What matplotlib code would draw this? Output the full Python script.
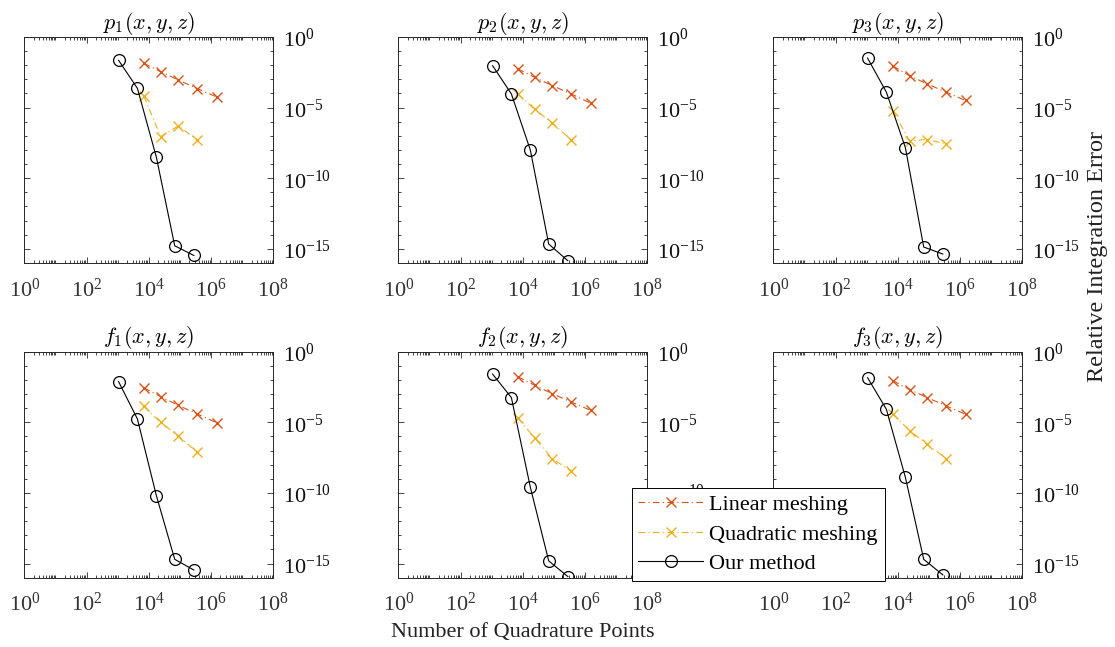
import numpy as np
import matplotlib
matplotlib.use("Agg")
import matplotlib.pyplot as plt
import matplotlib.transforms as mtransforms
from matplotlib.ticker import FixedLocator, FuncFormatter, LogLocator, NullFormatter

plt.rcParams.update({
    'font.family': 'serif',
    'font.serif': ['Liberation Serif', 'DejaVu Serif'],
    'mathtext.fontset': 'custom',
    'mathtext.rm': 'Liberation Serif',
    'mathtext.it': 'Liberation Serif:italic',
    'font.size': 16,
})

# number of quadrature points
x_ours = [1.07e3, 4.3e3, 1.75e4, 6.8e4, 2.8e5]
x_mesh = [6.9e3, 2.4e4, 8.9e4, 3.6e5, 1.5e6]

titles = ["$p_1(x,y,z)$", "$p_2(x,y,z)$", "$p_3(x,y,z)$",
          "$f_1(x,y,z)$", "$f_2(x,y,z)$", "$f_3(x,y,z)$"]

# relative integration error, one list per panel
ours_p1 = [2.24e-2, 2.34e-4, 3.1e-9, 1.66e-15, 3.4e-16]
lin_p1 = [1.38e-2, 3.5e-3, 9.1e-4, 2.2e-4, 5.8e-5]
quad_p1 = [6.8e-5, 8.9e-8, 5.1e-7, 5.2e-8]

ours_p2 = [9.3e-3, 9.3e-5, 9.8e-9, 2.2e-15, 1.45e-16]
lin_p2 = [5.5e-3, 1.4e-3, 3.6e-4, 9.3e-5, 2.1e-5]
quad_p2 = [9.3e-5, 7.8e-6, 7.9e-7, 5.2e-8]

ours_p3 = [3.2e-2, 1.23e-4, 1.48e-8, 1.35e-15, 4.3e-16]
lin_p3 = [8.9e-3, 1.8e-3, 4.7e-4, 1.23e-4, 3.2e-5]
quad_p3 = [5.9e-6, 4.5e-8, 5.5e-8, 2.7e-8]

ours_f1 = [7.6e-3, 1.74e-5, 6.5e-11, 2.0e-15, 3.5e-16]
lin_f1 = [2.8e-3, 6.6e-4, 1.58e-4, 3.9e-5, 9.5e-6]
quad_f1 = [1.35e-4, 1.0e-5, 1.07e-6, 7.6e-8]

ours_f2 = [2.6e-2, 5.6e-4, 2.5e-10, 1.55e-15, 1.2e-16]
lin_f2 = [1.7e-2, 4.2e-3, 1.07e-3, 2.75e-4, 7.1e-5]
quad_f2 = [2.1e-5, 7.8e-7, 2.7e-8, 3.4e-9]

ours_f3 = [1.45e-2, 8.3e-5, 1.29e-9, 2.0e-15, 1.58e-16]
lin_f3 = [8.9e-3, 2.1e-3, 5.6e-4, 1.45e-4, 3.7e-5]
quad_f3 = [3.9e-5, 2.6e-6, 2.75e-7, 2.7e-8]

panels = [
    (ours_p1, lin_p1, quad_p1),
    (ours_p2, lin_p2, quad_p2),
    (ours_p3, lin_p3, quad_p3),
    (ours_f1, lin_f1, quad_f1),
    (ours_f2, lin_f2, quad_f2),
    (ours_f3, lin_f3, quad_f3),
]

LIN_COLOR = '#D95319'
QUAD_COLOR = '#EDB120'
AX_COLOR = (0.15, 0.15, 0.15)

W, H = 1115, 647
lefts = [24.3, 398.3, 773.3]
tops = [37, 351.7]
ax_w, ax_h = 249, 226


def pow_label(v, pos):
    return r'$\mathregular{10^{%d}}$' % int(round(np.log10(v)))


def style_axis(ax, title):
    ax.set_xscale('log')
    ax.set_yscale('log')
    ax.set_xlim(1e0, 1e8)
    ax.set_ylim(1e-16, 1e0)
    ax.xaxis.set_major_locator(FixedLocator([1e0, 1e2, 1e4, 1e6, 1e8]))
    ax.xaxis.set_minor_locator(LogLocator(base=10, subs=np.arange(1, 10), numticks=100))
    ax.yaxis.set_major_locator(FixedLocator([1e-15, 1e-10, 1e-5, 1e0]))
    ax.yaxis.set_minor_locator(FixedLocator(10.0 ** np.arange(-16, 1)))
    ax.xaxis.set_major_formatter(FuncFormatter(pow_label))
    ax.yaxis.set_major_formatter(FuncFormatter(pow_label))
    ax.xaxis.set_minor_formatter(NullFormatter())
    ax.yaxis.set_minor_formatter(NullFormatter())
    ax.tick_params(which='both', direction='in', top=True, bottom=True, left=True, right=True,
                   labelleft=False, labelright=True, colors=AX_COLOR, width=0.6)
    ax.tick_params(which='major', length=4, labelsize=16)
    ax.tick_params(which='minor', length=2)
    ax.tick_params(axis='x', which='major', pad=11, labelcolor='#333333')
    ax.tick_params(axis='y', which='major', pad=7, labelcolor='#111111')
    # nudge right-hand labels a bit below their ticks, as in the original
    shift = mtransforms.ScaledTranslation(0, -2.5 / 72, ax.figure.dpi_scale_trans)
    for tick in ax.yaxis.get_major_ticks():
        tick.label2.set_verticalalignment('center')
        tick.label2.set_transform(tick.label2.get_transform() + shift)
    for s in ax.spines.values():
        s.set_color(AX_COLOR)
        s.set_linewidth(0.7)
    t = ax.set_title(title, fontsize=16, pad=6)
    t.set_math_fontfamily('cm')


fig = plt.figure(figsize=(W / 100, H / 100), dpi=100)
for i, (ours, lin, quad) in enumerate(panels):
    r, c = divmod(i, 3)
    ax = fig.add_axes([lefts[c] / W, 1 - (tops[r] + ax_h) / H, ax_w / W, ax_h / H])
    l1, = ax.plot(x_mesh, lin, linestyle=(0, (6, 3, 1, 3)), marker='x', color=LIN_COLOR,
                  lw=0.8, ms=7, mew=1.0, label='Linear meshing')
    l2, = ax.plot(x_mesh[:len(quad)], quad, linestyle=(0, (6, 3, 1, 3)), marker='x', color=QUAD_COLOR,
                  lw=0.8, ms=7, mew=1.0, label='Quadratic meshing')
    l3, = ax.plot(x_ours, ours, '-o', color='black', mfc='none', lw=0.8, ms=8.5, mew=0.9,
                  label='Our method')
    style_axis(ax, titles[i])

leg = fig.legend([l1, l2, l3], ['Linear meshing', 'Quadratic meshing', 'Our method'],
                 loc='lower left', bbox_to_anchor=(631.7 / W, 1 - 580.7 / H),
                 fontsize=16, frameon=True, fancybox=False, edgecolor='black',
                 framealpha=1, handlelength=2.9, handletextpad=0.3, borderpad=0.3,
                 labelspacing=0.4, borderaxespad=0)
leg.get_frame().set_linewidth(0.7)

fig.text(522.8 / W, 1 - 632 / H, 'Number of Quadrature Points', ha='center', va='center',
         fontsize=16, color='#222222')
fig.text(1098 / W, 1 - 256 / H, 'Relative Integration Error', ha='center', va='center',
         rotation=90, fontsize=17.5, color='#222222')

plt.savefig('out.png', dpi=100)
